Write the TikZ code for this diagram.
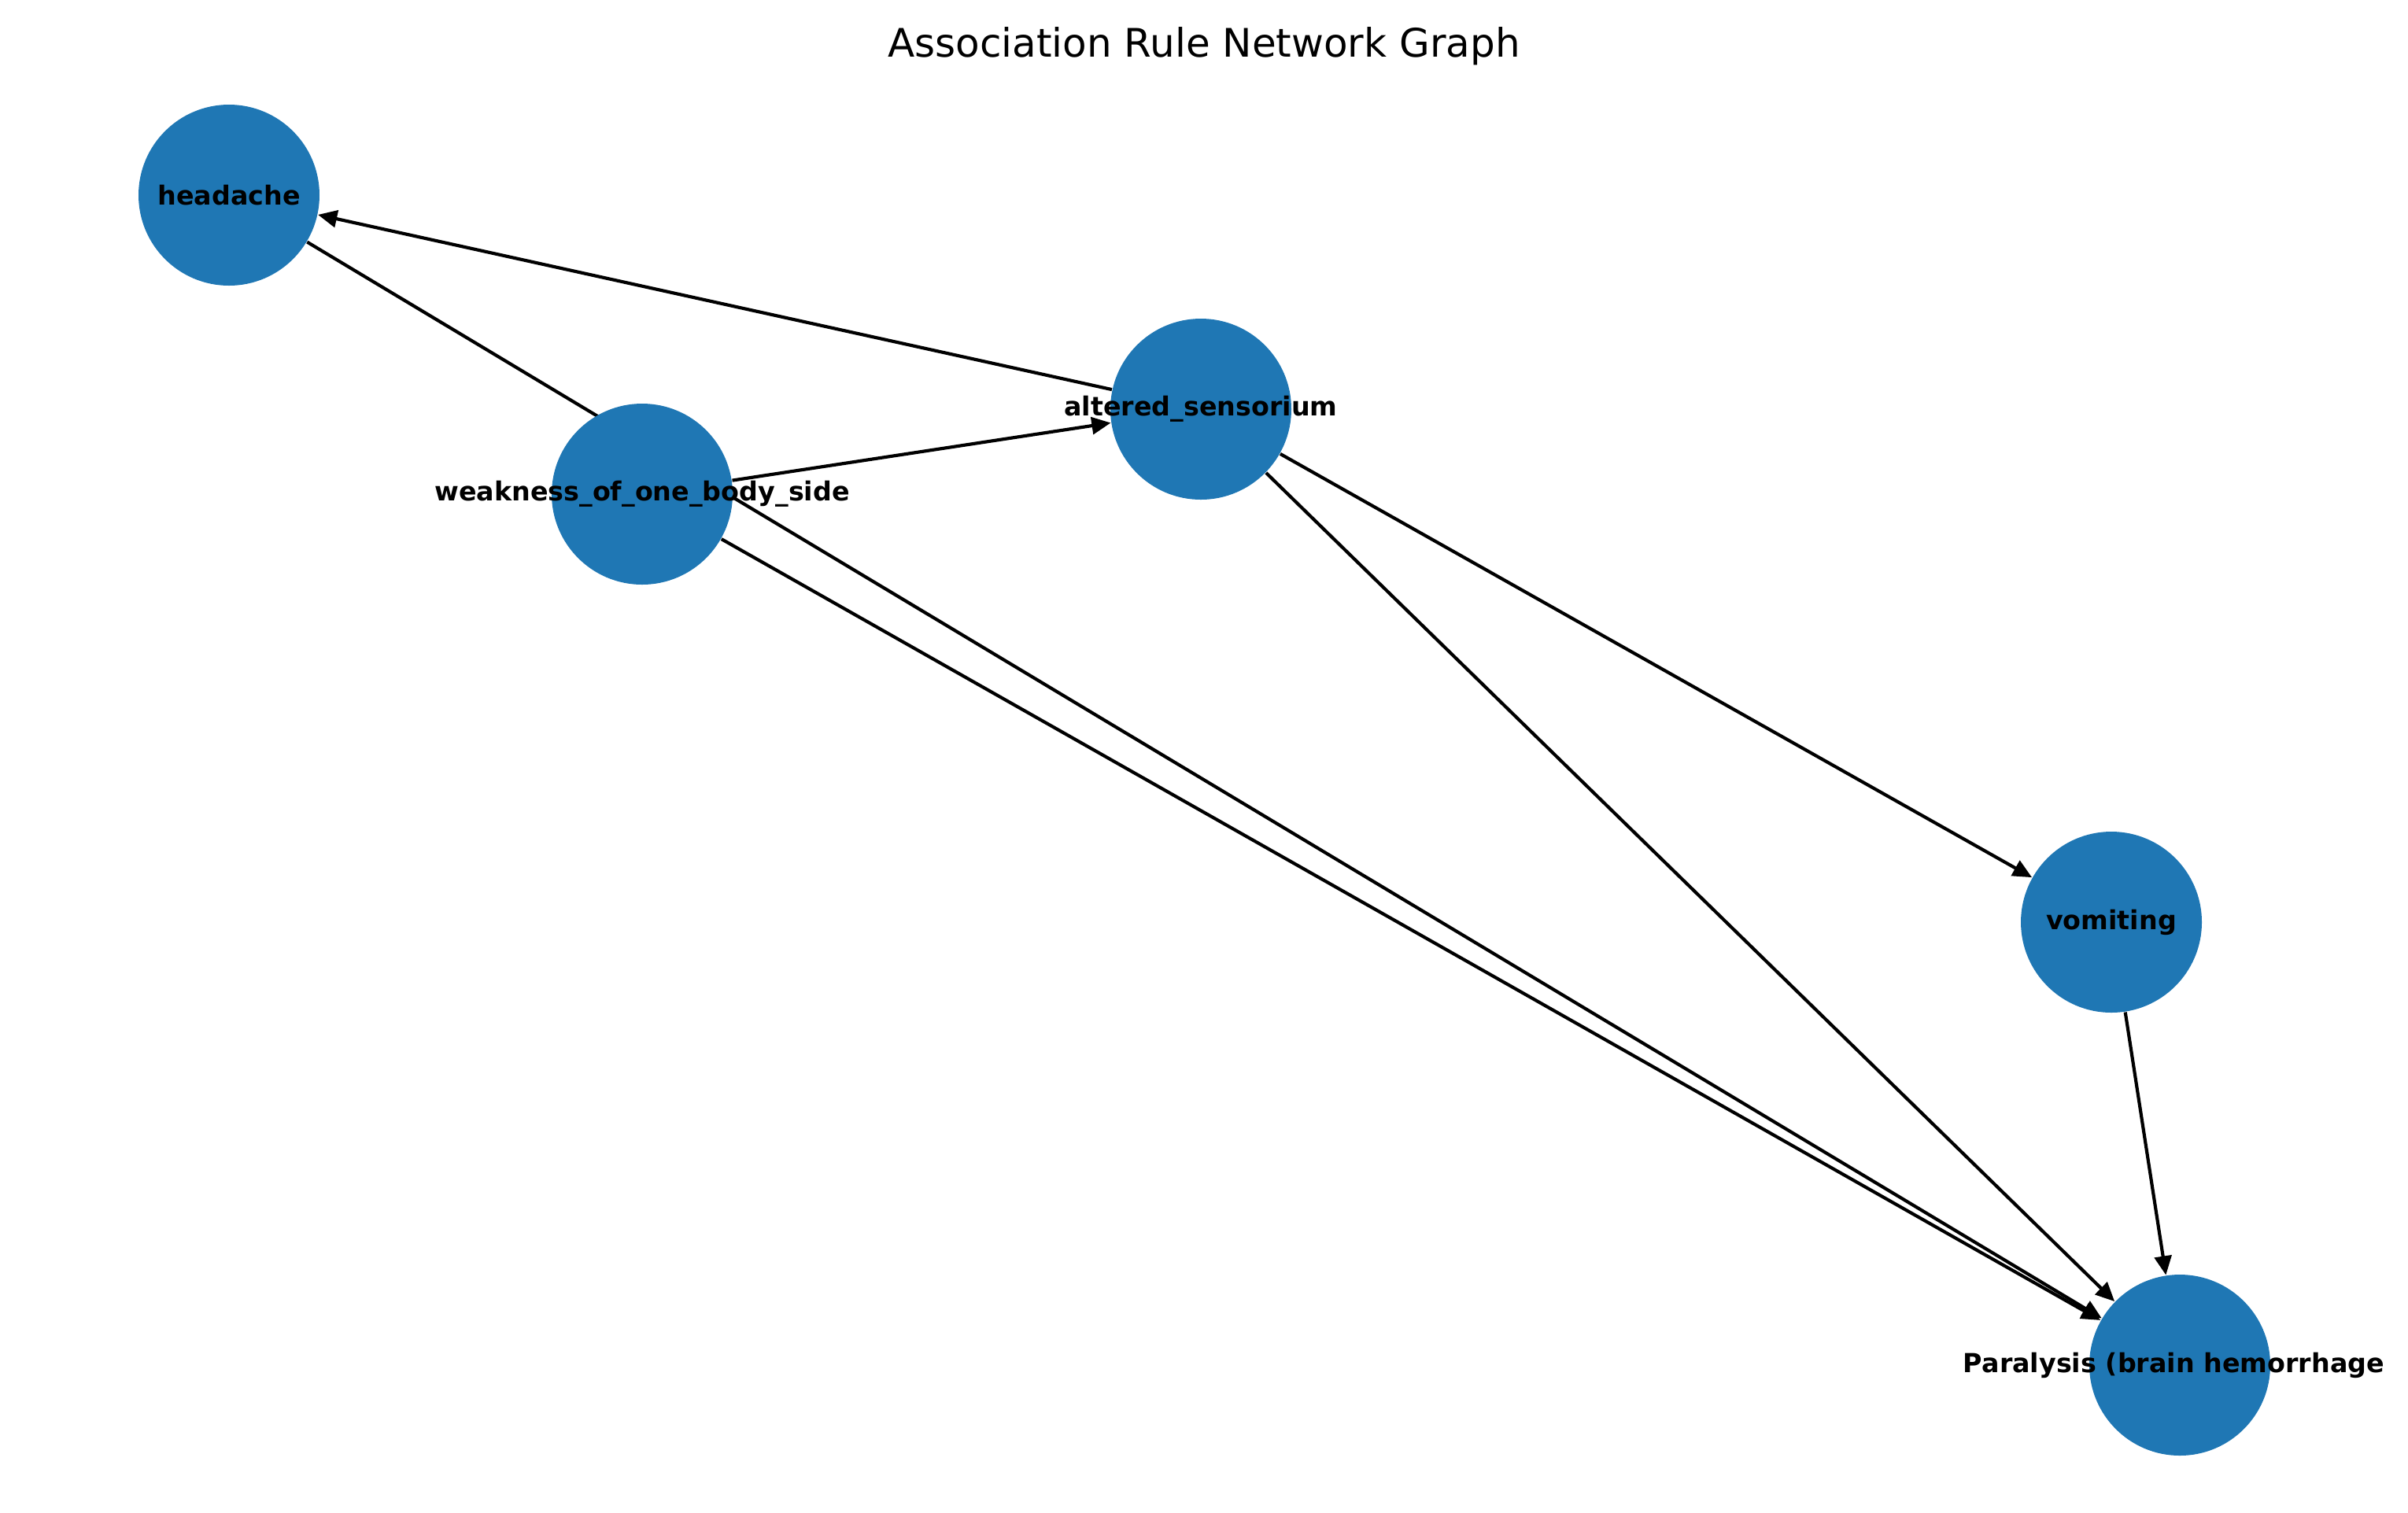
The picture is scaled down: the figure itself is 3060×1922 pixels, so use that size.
\documentclass[tikz,border=0pt]{standalone}
\usepackage{fontspec}
\setmainfont{DejaVu Sans}
\usepackage{xcolor}
\usetikzlibrary{arrows.meta,backgrounds}
\definecolor{nodeblue}{HTML}{1F77B4}

\begin{document}
\begin{tikzpicture}[x=0.24pt,y=-0.24pt,
        symptom/.style={circle,fill=nodeblue,minimum size=55.2pt,inner sep=0pt},
        symlabel/.style={font=\fontsize{8}{10}\selectfont\bfseries},
        rule/.style={-{Triangle[length=5.8pt,width=5.2pt]},line width=1pt}]
        \useasboundingbox (0,0) rectangle (3060,1922);
        \node[anchor=base,font=\fontsize{12}{14}\selectfont] (title) at (1530,72) {Association Rule Network Graph};

        \node[symptom,label={[symlabel]center:headache}] (head) at (291,248) {};
        \node[symptom,label={[symlabel]center:weakness\_of\_one\_body\_side}] (weak) at (816,628) {};
        \node[symptom,label={[symlabel]center:altered\_sensorium}] (alt) at (1526,520) {};
        \node[symptom,label={[symlabel]center:vomiting}] (vom) at (2683,1172) {};
        \node[symptom,label={[symlabel,xshift=-1.8pt]center:Paralysis (brain hemorrhage}] (para) at (2770,1735) {};

        % edges go under the nodes
        \begin{scope}[on background layer]
            \draw[rule] (head) -- (para);
            \draw[rule] (weak) -- (para);
            \draw[rule] (weak) -- (alt);
            \draw[rule] (alt) -- (head);
            \draw[rule] (alt) -- (vom);
            \draw[rule] (alt) -- (para);
            \draw[rule] (vom) -- (para);
        \end{scope}
    \end{tikzpicture}
\end{document}
